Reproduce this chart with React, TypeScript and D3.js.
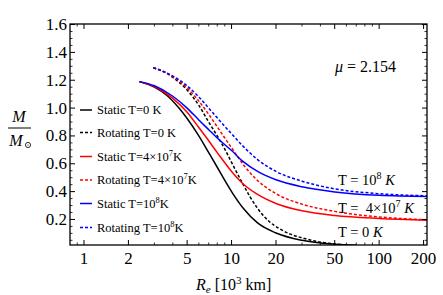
import React from "react";
import * as d3 from "d3";

type Pt = [number, number];

const staticT0: Pt[] = [[2.37,1.19],[3,1.15],[3.65,1.09],[4.4,1.0],[5,0.925],[6,0.80],[7,0.68],[8,0.575],[9,0.48],[10,0.40],[12,0.28],[15,0.175],[20,0.103],[30,0.05],[50,0.022],[70,0.014]];
const staticT4e7: Pt[] = [[2.37,1.19],[3,1.155],[4,1.07],[5,0.97],[6,0.86],[7,0.765],[8,0.68],[10,0.545],[12,0.455],[15,0.38],[20,0.315],[30,0.262],[50,0.228],[100,0.207],[211,0.195]];
const staticT1e8: Pt[] = [[2.37,1.19],[3,1.16],[4,1.085],[5,1.0],[6,0.915],[7,0.845],[8,0.785],[10,0.695],[12,0.615],[15,0.545],[20,0.485],[30,0.435],[50,0.398],[100,0.373],[211,0.365]];
const rotT0: Pt[] = [[2.95,1.29],[3.5,1.26],[4,1.22],[5,1.13],[6,1.02],[7,0.9],[8,0.80],[9,0.705],[10,0.61],[12,0.45],[13.3,0.365],[15,0.28],[18,0.185],[21,0.135],[25,0.095],[30,0.068],[40,0.037],[50,0.024],[60,0.017]];
const rotT4e7: Pt[] = [[2.95,1.29],[4,1.225],[5,1.145],[6,1.05],[7,0.955],[8,0.865],[9,0.785],[10,0.715],[12,0.595],[15,0.48],[20,0.385],[30,0.31],[50,0.258],[100,0.218],[211,0.198]];
const rotT1e8: Pt[] = [[2.95,1.29],[4,1.23],[5,1.16],[6,1.08],[7,1.0],[8,0.93],[10,0.815],[12,0.725],[15,0.63],[20,0.545],[30,0.475],[50,0.42],[100,0.385],[211,0.37]];

const xTicks = [1, 2, 5, 10, 20, 50, 100, 200];
const xMinor = [0.9, 3, 4, 6, 7, 8, 9, 30, 40, 60, 70, 80, 90];
const yTicks = [0.2, 0.4, 0.6, 0.8, 1.0, 1.2, 1.4, 1.6];

const L = 70, T = 24, R = 427, B = 245;
const FS = { fontFamily: "Liberation Serif" };

export default function App() {
  const x = d3.scaleLog().domain([0.804, 211]).range([L, R]);
  const y = d3.scaleLinear().domain([0.0165, 1.604]).range([B, T]);
  const line = d3.line<Pt>().x(d => x(d[0])).y(d => y(d[1])).curve(d3.curveMonotoneX);

  const series = [
    { d: staticT0, c: "#000", dash: "" },
    { d: rotT0, c: "#000", dash: "3,2" },
    { d: staticT4e7, c: "#ff0000", dash: "" },
    { d: rotT4e7, c: "#ff0000", dash: "3,2" },
    { d: staticT1e8, c: "#0000ff", dash: "" },
    { d: rotT1e8, c: "#0000ff", dash: "3,2" },
  ];

  const yMinor: number[] = [];
  for (let v = 0.05; v < 1.6; v += 0.05) {
    const r = Math.round(v * 100) / 100;
    if (Math.abs(r * 5 - Math.round(r * 5)) > 1e-6) yMinor.push(r);
  }

  const legendY = [110, 132.5, 156.5, 180, 203.5, 227.5];
  const sup = (s: string) => <tspan dy={-5} fontSize={8.5}>{s}</tspan>;
  const legendTexts: React.ReactNode[] = [
    <>Static T=0 K</>,
    <>Rotating T=0 K</>,
    <>Static T=4×10{sup("7")}<tspan dy={5}>K</tspan></>,
    <>Rotating T=4×10{sup("7")}<tspan dy={5}>K</tspan></>,
    <>Static T=10{sup("8")}<tspan dy={5}>K</tspan></>,
    <>Rotating T=10{sup("8")}<tspan dy={5}>K</tspan></>,
  ];

  return (
    <svg width={443} height={295} style={{ display: "block", position: "absolute", left: 0, top: 0 }}>
      <rect width={443} height={295} fill="#fff" />
      <defs>
        <clipPath id="clip"><rect x={L} y={T} width={R - L} height={B - T} /></clipPath>
      </defs>
      <g clipPath="url(#clip)">
        {series.map((s, i) => (
          <path key={i} d={line(s.d) || ""} fill="none" stroke={s.c} strokeWidth={1.5} strokeDasharray={s.dash || undefined} />
        ))}
      </g>
      <rect x={L} y={T} width={R - L} height={B - T} fill="none" stroke="#000" strokeWidth={1.3} />
      {xTicks.map(t => (
        <g key={"xt" + t}>
          <line x1={x(t)} x2={x(t)} y1={B} y2={B - 5} stroke="#000" strokeWidth={1} />
          <line x1={x(t)} x2={x(t)} y1={T} y2={T + 5} stroke="#000" strokeWidth={1} />
          <text x={x(t)} y={264} textAnchor="middle" fontSize={17} style={FS}>{t}</text>
        </g>
      ))}
      {xMinor.map(t => (
        <g key={"xm" + t}>
          <line x1={x(t)} x2={x(t)} y1={B} y2={B - 2.5} stroke="#000" strokeWidth={0.8} />
          <line x1={x(t)} x2={x(t)} y1={T} y2={T + 2.5} stroke="#000" strokeWidth={0.8} />
        </g>
      ))}
      {yTicks.map(t => (
        <g key={"yt" + t}>
          <line x1={L} x2={L + 5} y1={y(t)} y2={y(t)} stroke="#000" strokeWidth={1} />
          <line x1={R} x2={R - 5} y1={y(t)} y2={y(t)} stroke="#000" strokeWidth={1} />
          <text x={67} y={y(t) + 5.5} textAnchor="end" fontSize={17} style={FS}>{t.toFixed(1)}</text>
        </g>
      ))}
      {yMinor.map(t => (
        <g key={"ym" + t}>
          <line x1={L} x2={L + 2.5} y1={y(t)} y2={y(t)} stroke="#000" strokeWidth={0.8} />
          <line x1={R} x2={R - 2.5} y1={y(t)} y2={y(t)} stroke="#000" strokeWidth={0.8} />
        </g>
      ))}
      {series.map((s, i) => (
        <g key={"lg" + i}>
          <line x1={80} x2={92} y1={legendY[i]} y2={legendY[i]} stroke={s.c} strokeWidth={1.5} strokeDasharray={s.dash || undefined} />
          <text x={97} y={legendY[i] + 4.3} fontSize={12.5} style={FS}>{legendTexts[i]}</text>
        </g>
      ))}
      <text x={335} y={72} fontSize={16} style={FS}><tspan fontStyle="italic">μ</tspan> = 2.154</text>
      <text x={338} y={185} fontSize={14.5} style={FS}>T = 10<tspan dy={-6} fontSize={10}>8</tspan><tspan dy={6}> </tspan><tspan fontStyle="italic">K</tspan></text>
      <text x={338} y={213} fontSize={14.5} style={FS}>T = {"\u00a0"}4×10<tspan dy={-6} fontSize={10}>7</tspan><tspan dy={6}> </tspan><tspan fontStyle="italic">K</tspan></text>
      <text x={338} y={237} fontSize={14.5} style={FS}>T = 0 <tspan fontStyle="italic">K</tspan></text>
      <text x={196} y={290} fontSize={16} style={FS}><tspan fontStyle="italic">R</tspan><tspan fontStyle="italic" fontSize={11} dy={3}>e</tspan><tspan dy={-3}> [10</tspan><tspan dy={-6} fontSize={11}>3</tspan><tspan dy={6}> km]</tspan></text>
      <text x={19} y={122} textAnchor="middle" fontSize={16} fontStyle="italic" style={FS}>M</text>
      <line x1={8} x2={31} y1={128} y2={128} stroke="#000" strokeWidth={1} />
      <text x={16} y={146} textAnchor="middle" fontSize={16} fontStyle="italic" style={FS}>M</text>
      <circle cx={28} cy={145} r={2.6} fill="none" stroke="#000" strokeWidth={0.8} />
      <circle cx={28} cy={145} r={0.6} fill="#000" />
    </svg>
  );
}
